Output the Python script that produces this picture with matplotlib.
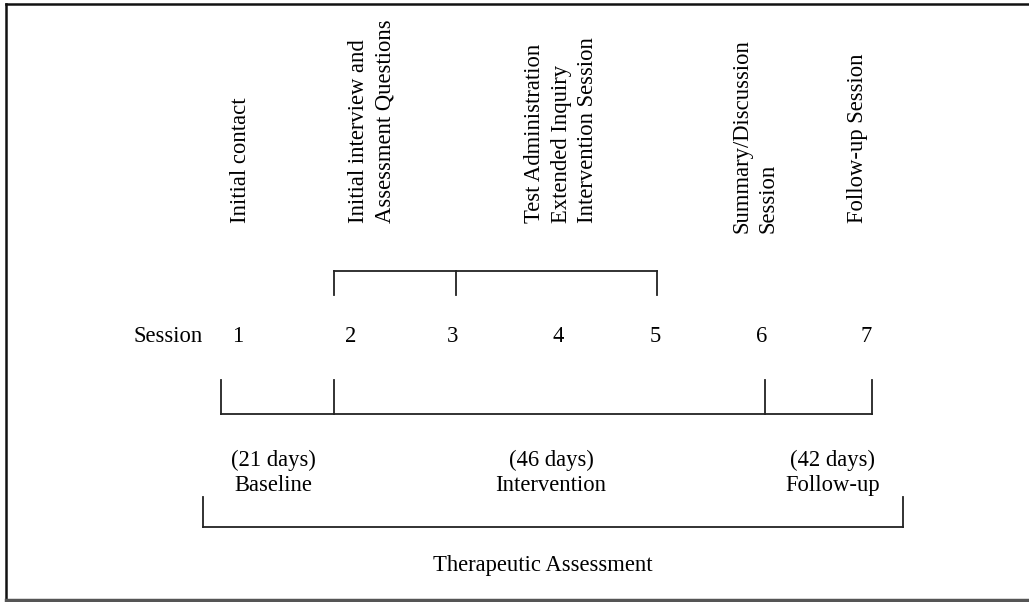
import matplotlib.pyplot as plt

# 数据
sessions = [1, 2, 3, 4, 5, 6, 7]
session_notes = {
    1: "Initial contact",
    2: "Initial interview and\nAssessment Questions",
    4: "Test Administration\nExtended Inquiry\nIntervention Session",
    6: "Summary/Discussion\nSession",
    7: "Follow-up Session",
}
phases = ["Baseline", "Intervention", "Follow-up"]
phase_days = [21, 46, 42]
overall_label = "Therapeutic Assessment"

# 布局 (像素坐标)
session_x = [238, 351, 453, 558, 655, 762, 866]
note_x = {1: 241, 2: 372, 4: 561, 6: 755, 7: 857}
note_bottom = {1: 223, 2: 223, 4: 223, 6: 233, 7: 223}
upper_ticks = [334, 456, 657]
lower_ticks = [221, 334, 765, 872]
phase_x = [273, 551, 833]
outer_ticks = [203, 903]

plt.rcParams['font.family'] = ['Liberation Serif', 'DejaVu Serif']
fs = 16.3
lw = 1.3
col = '#222222'

fig = plt.figure(figsize=(10.29, 6.02), dpi=100)
ax = fig.add_axes([0, 0, 1, 1])
ax.set_xlim(0, 1029)
ax.set_ylim(602, 0)
ax.axis('off')

# 外框
ax.plot([6, 6], [4, 600], color='#111111', lw=1.8)
ax.plot([6, 1029], [4, 4], color='#111111', lw=1.8)
ax.plot([6, 1029], [600, 600], color='#555555', lw=2.5)

# 竖排说明文字
for s, txt in session_notes.items():
    ax.text(note_x[s], note_bottom[s], txt, rotation=90, ha='center', va='bottom',
            multialignment='left', fontsize=fs, linespacing=1.33)

# Session 行
ax.text(168, 336, "Session", ha='center', va='center', fontsize=fs)
for s, x in zip(sessions, session_x):
    ax.text(x, 336, str(s), ha='center', va='center', fontsize=fs)

# 上方括号
ax.plot([upper_ticks[0], upper_ticks[-1]], [271, 271], color=col, lw=lw)
for x in upper_ticks:
    ax.plot([x, x], [271, 295], color=col, lw=lw)

# 下方括号
ax.plot([lower_ticks[0], lower_ticks[-1]], [414, 414], color=col, lw=lw)
for x in lower_ticks:
    ax.plot([x, x], [380, 414], color=col, lw=lw)

# 阶段
for x, name, d in zip(phase_x, phases, phase_days):
    ax.text(x, 473, "(%d days)\n%s" % (d, name), ha='center', va='center',
            multialignment='center', fontsize=fs, linespacing=1.3)

# 最外括号
ax.plot([outer_ticks[0], outer_ticks[1]], [527, 527], color=col, lw=lw)
for x in outer_ticks:
    ax.plot([x, x], [497, 527], color=col, lw=lw)

ax.text(543, 566, overall_label, ha='center', va='center', fontsize=fs)

fig.savefig('out.png', dpi=100)
